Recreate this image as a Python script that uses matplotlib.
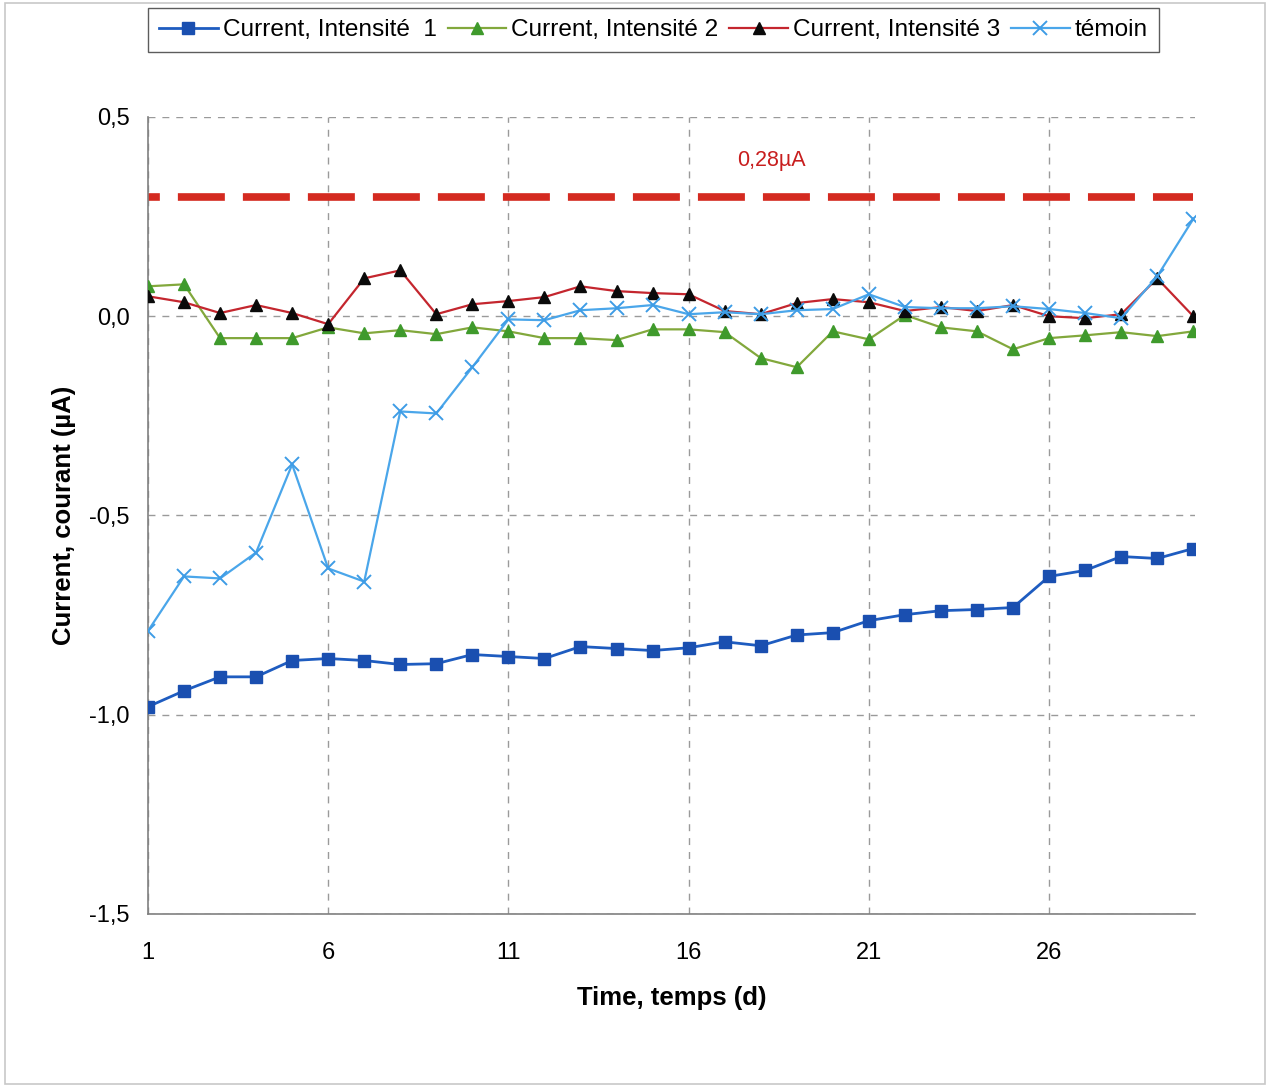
import matplotlib
matplotlib.use("Agg")
import matplotlib.pyplot as plt
from matplotlib.patches import Rectangle
from matplotlib.ticker import FuncFormatter

plt.rcParams['font.family'] = ['Liberation Sans', 'DejaVu Sans']

days = list(range(1, 31))
intensite1 = [-0.98, -0.94, -0.905, -0.905, -0.864, -0.859, -0.864, -0.874, -0.872, -0.849,
              -0.854, -0.859, -0.829, -0.834, -0.839, -0.832, -0.817, -0.827, -0.80, -0.794,
              -0.764, -0.749, -0.739, -0.736, -0.731, -0.653, -0.638, -0.603, -0.608, -0.583]
intensite2 = [0.075, 0.08, -0.055, -0.055, -0.055, -0.028, -0.043, -0.035, -0.045, -0.028,
              -0.038, -0.055, -0.055, -0.06, -0.033, -0.033, -0.04, -0.105, -0.128, -0.038,
              -0.058, 0.003, -0.028, -0.038, -0.083, -0.055, -0.048, -0.04, -0.05, -0.038]
intensite3 = [0.05, 0.035, 0.008, 0.028, 0.008, -0.02, 0.095, 0.115, 0.005, 0.03,
              0.038, 0.048, 0.075, 0.063, 0.058, 0.055, 0.013, 0.005, 0.033, 0.043,
              0.035, 0.013, 0.023, 0.013, 0.028, 0.0, -0.005, 0.005, 0.095, 0.0]
temoin = [-0.79, -0.653, -0.658, -0.593, -0.372, -0.633, -0.666, -0.239, -0.244, -0.128,
          -0.008, -0.01, 0.015, 0.02, 0.028, 0.005, 0.01, 0.005, 0.015, 0.018,
          0.055, 0.023, 0.02, 0.02, 0.025, 0.018, 0.008, -0.005, 0.10, 0.244]
threshold = 0.30
threshold_label = "0,28µA"
labels = ["Current, Intensité  1", "Current, Intensité 2", "Current, Intensité 3", "témoin"]
xticks = [1, 6, 11, 16, 21, 26]
yticks = [0.5, 0.0, -0.5, -1.0, -1.5]

fig = plt.figure(figsize=(12.7, 10.87), dpi=100)
fig.patches.append(Rectangle((0.004, 0.003), 0.992, 0.994, transform=fig.transFigure,
                             fill=False, edgecolor='#c8c8c8', linewidth=1.2))
ax = fig.add_axes([0.1165, 0.1592, 0.8245, 0.7332])

ax.plot(days, [threshold] * len(days), color='#d42a20', linewidth=5.5,
        linestyle=(4.6, (6.15, 2.36)), solid_capstyle='butt', zorder=2)
ax.text(18.3, 0.39, threshold_label, color='#c81e1e', fontsize=15.5, ha='center', va='center')

l1, = ax.plot(days, intensite1, color='#1e5cc0', linewidth=2, marker='s', markersize=8,
              markerfacecolor='#1a4fb0', markeredgecolor='#1a4fb0', zorder=4)
l2, = ax.plot(days, intensite2, color='#82a83c', linewidth=1.6, marker='^', markersize=9,
              markerfacecolor='#3f9a2c', markeredgecolor='#3f9a2c', zorder=4)
l3, = ax.plot(days, intensite3, color='#c4262e', linewidth=1.6, marker='^', markersize=9,
              markerfacecolor='#0a0a0a', markeredgecolor='#0a0a0a', zorder=5)
l4, = ax.plot(days, temoin, color='#4aa6ea', linewidth=1.6, marker='x', markersize=10,
              markeredgewidth=1.4, markeredgecolor='#3e9ce6', zorder=6)

ax.set_xlim(1, 30.05)
ax.set_ylim(-1.5, 0.5)
ax.set_xticks(xticks)
ax.set_yticks(yticks)
ax.yaxis.set_major_formatter(FuncFormatter(lambda v, p: f"{v:.1f}".replace('.', ',')))
ax.grid(True, color='#9a9a9a', linestyle=(0, (5, 5)), linewidth=1)
ax.set_axisbelow(True)
for s in ['top', 'right']:
    ax.spines[s].set_visible(False)
for s in ['left', 'bottom']:
    ax.spines[s].set_color('#808080')
    ax.spines[s].set_linewidth(1.2)
ax.tick_params(axis='y', labelsize=17, length=0, pad=13)
ax.tick_params(axis='x', labelsize=17, length=0, pad=20)
ax.set_xlabel("Time, temps (d)", fontsize=18.5, fontweight='bold', labelpad=16)
ax.set_ylabel("Current, courant (µA)", fontsize=18.5, fontweight='bold', labelpad=10)

leg = fig.legend([l1, l2, l3, l4], labels, loc='upper left', bbox_to_anchor=(0.1165, 0.9926),
                 ncol=4, fontsize=17.6, frameon=True, fancybox=False, handlelength=2.4,
                 handletextpad=0.2, columnspacing=0.45, borderpad=0.45, borderaxespad=0)
leg.get_frame().set_edgecolor('#333333')
leg.get_frame().set_linewidth(1.0)

fig.savefig("out.png", dpi=100)
